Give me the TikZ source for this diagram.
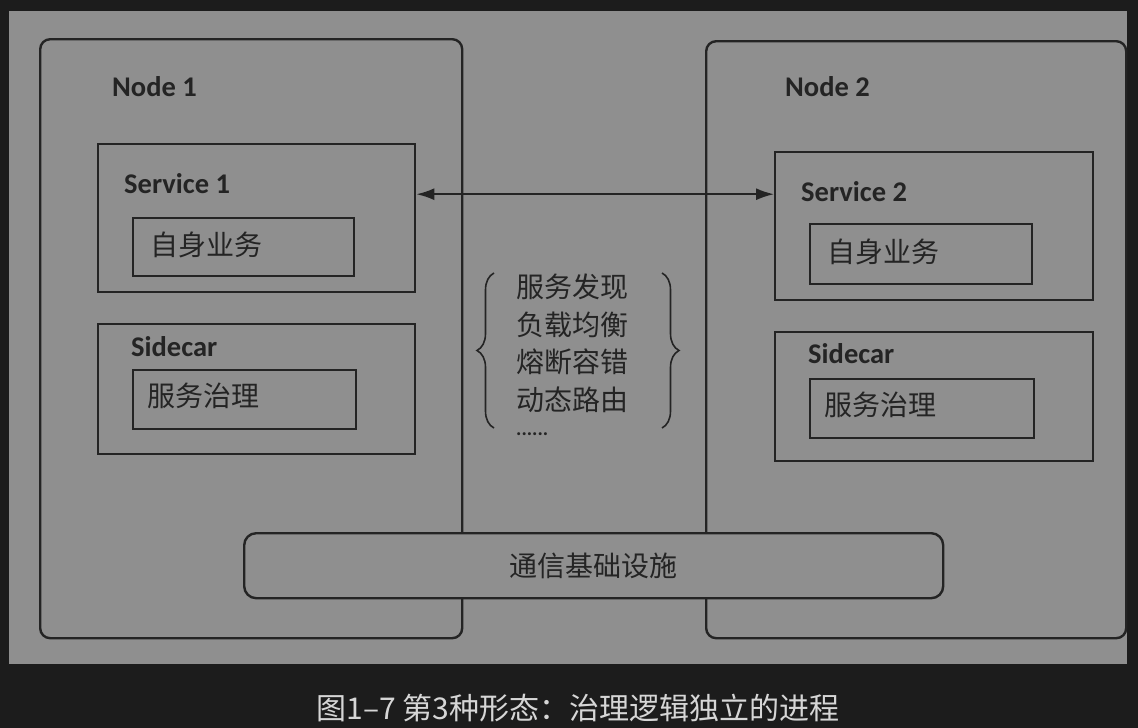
\documentclass[tikz,border=0pt]{standalone}
\usepackage{fontspec}
\usetikzlibrary{decorations.pathreplacing,arrows.meta,calc}
\newfontfamily\cjk{Noto Sans CJK SC}
\newfontfamily\latb{Carlito}
\definecolor{bgdark}{HTML}{1C1C1C}
\definecolor{panel}{HTML}{8F8F8F}
\definecolor{ink}{HTML}{242424}
\definecolor{capc}{HTML}{D6D6D6}
\tikzset{
  frame/.style={draw=ink, line width=2.4pt, rounded corners=10pt, inner sep=0pt, anchor=north west},
  box/.style={draw=ink, line width=2.4pt, inner sep=0pt, anchor=north west},
  lbl/.style={font=\latb\bfseries\fontsize{28.5}{28.5}\selectfont, text=ink, inner sep=0pt, anchor=base west},
  zh/.style={font=\cjk\fontsize{28}{28}\selectfont, text=ink, inner sep=0pt, anchor=west},
  brc/.style={draw=ink, line width=1.6pt, decorate, decoration={brace, amplitude=17pt}},
}
\begin{document}
\begin{tikzpicture}[x=1pt,y=-1pt]
\useasboundingbox (0,0) rectangle (1138,728);
\fill[bgdark] (0,0) rectangle (1138,728);
\fill[panel] (9,11) rectangle (1127,664);
% outer nodes
\node[frame, minimum width=422pt, minimum height=599pt] (n1) at (39,38) {};
\node[frame, minimum width=420pt, minimum height=597pt] (n2) at (705,40) {};
\node[lbl] (n1l) at (112,96) {Node 1};
\node[lbl] (n2l) at (785,96) {Node 2};
% node 1 contents
\node[box, minimum width=317pt, minimum height=148pt] (s1) at (97,143) {};
\node[lbl] (s1l) at (124,193) {Service 1};
\node[box, minimum width=221pt, minimum height=58pt] (b1) at (132,217) {};
\node[zh] (b1t) at (150,245) {自身业务};
\node[box, minimum width=317pt, minimum height=130pt] (c1) at (97,323) {};
\node[lbl] (c1l) at (131,356) {Sidecar};
\node[box, minimum width=223pt, minimum height=59pt] (g1) at (132,369) {};
\node[zh] (g1t) at (147,396) {服务治理};
% node 2 contents
\node[box, minimum width=318pt, minimum height=148pt] (s2) at (774,151) {};
\node[lbl] (s2l) at (801,201) {Service 2};
\node[box, minimum width=222pt, minimum height=60pt] (b2) at (809,223) {};
\node[zh] (b2t) at (827,252) {自身业务};
\node[box, minimum width=318pt, minimum height=129pt] (c2) at (774,331) {};
\node[lbl] (c2l) at (808,363) {Sidecar};
\node[box, minimum width=224pt, minimum height=59pt] (g2) at (809,378) {};
\node[zh] (g2t) at (824,405) {服务治理};
% arrow
\draw[draw=ink, line width=1.8pt, {Latex[length=18pt,width=12pt]}-{Latex[length=18pt,width=12pt]}]
  ([yshift=24pt]s1.east) -- ([yshift=24pt]s1.east -| s2.west);
% governance list
\node[zh] (l1) at (516,287) {服务发现};
\node[zh] (l2) at (516,325) {负载均衡};
\node[zh] (l3) at (516,362) {熔断容错};
\node[zh] (l4) at (516,400) {动态路由};
\node[font=\latb\bfseries\fontsize{20}{20}\selectfont, text=ink, inner sep=0pt, anchor=base west] (l5) at (516,435) {......};
\draw[brc] (494,428) -- (494,273);
\draw[brc] (662,273) -- (662,428);
% infrastructure
\node[frame, rounded corners=12pt, fill=panel, minimum width=699pt, minimum height=65pt] (inf) at (243,532) {};
\node[zh, anchor=center] (inft) at (inf.center) {通信基础设施};
% caption
\node[font=\cjk\fontsize{30}{30}\selectfont, text=capc, inner sep=0pt] (cap) at (578,708) {图1–7 第3种形态：治理逻辑独立的进程};
\end{tikzpicture}
\end{document}
